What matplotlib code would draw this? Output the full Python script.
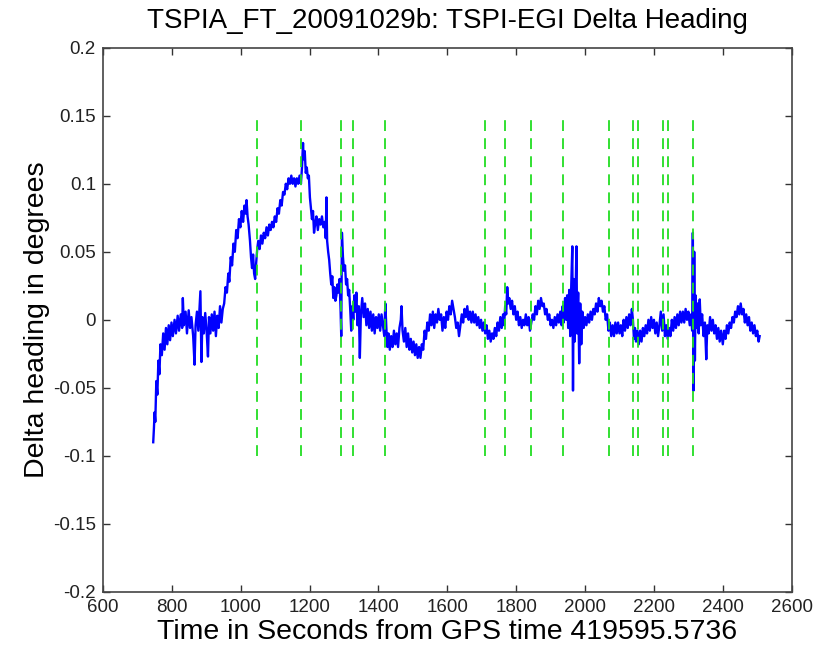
import matplotlib
matplotlib.use('Agg')
import matplotlib.pyplot as plt

plt.rcParams['font.family'] = ['Liberation Sans', 'DejaVu Sans']

# Zeitpunkte (s) und Kursdifferenz (Grad)
time_s = [
    746, 748, 750, 752, 755, 758, 761, 764, 767, 771, 775, 779, 783, 787, 791, 795, 799, 803,
    808, 812, 817, 821, 826, 830, 832, 835, 840, 844, 849, 853, 857, 862, 866, 869, 873, 877,
    883, 886, 889, 893, 897, 901, 905, 908, 912, 916, 920, 924, 928, 932, 936, 940, 944, 948,
    952, 956, 960, 964, 967, 971, 975, 979, 983, 987, 991, 995, 999, 1003, 1007, 1011, 1015, 1017,
    1020, 1023, 1027, 1030, 1033, 1036, 1039, 1042, 1045, 1048, 1051, 1055, 1059, 1063, 1067, 1071,
    1075, 1079, 1083, 1087, 1091, 1095, 1099, 1103, 1107, 1111, 1115, 1119, 1123, 1127, 1131, 1135,
    1139, 1143, 1147, 1151, 1155, 1159, 1163, 1167, 1171, 1175, 1178, 1181, 1183, 1186, 1189, 1192,
    1195, 1198, 1201, 1204, 1207, 1210, 1213, 1216, 1220, 1224, 1228, 1232, 1236, 1240, 1244, 1247,
    1249, 1251, 1254, 1257, 1260, 1263, 1266, 1269, 1272, 1275, 1278, 1281, 1284, 1287, 1290, 1292,
    1294, 1297, 1300, 1303, 1306, 1309, 1312, 1315, 1318, 1321, 1324, 1327, 1330, 1333, 1336, 1339,
    1343, 1346, 1349, 1353, 1357, 1361, 1365, 1369, 1373, 1377, 1381, 1385, 1389, 1393, 1397, 1401,
    1405, 1409, 1413, 1417, 1420, 1423, 1426, 1429, 1433, 1437, 1441, 1445, 1449, 1453, 1457, 1461,
    1465, 1467, 1470, 1474, 1478, 1482, 1486, 1490, 1494, 1498, 1502, 1506, 1510, 1514, 1518, 1522,
    1526, 1530, 1534, 1538, 1542, 1546, 1550, 1554, 1558, 1562, 1566, 1570, 1574, 1578, 1582, 1586,
    1590, 1594, 1598, 1602, 1606, 1610, 1614, 1618, 1622, 1626, 1630, 1634, 1638, 1642, 1646, 1650,
    1654, 1658, 1662, 1666, 1670, 1674, 1678, 1682, 1686, 1690, 1694, 1698, 1702, 1706, 1710, 1714,
    1718, 1722, 1726, 1730, 1734, 1738, 1742, 1746, 1750, 1754, 1758, 1762, 1765, 1768, 1771, 1774,
    1777, 1780, 1784, 1788, 1792, 1796, 1800, 1804, 1808, 1812, 1816, 1820, 1824, 1828, 1832, 1836,
    1840, 1844, 1848, 1852, 1856, 1860, 1864, 1868, 1872, 1876, 1880, 1884, 1888, 1892, 1896, 1900,
    1904, 1908, 1912, 1916, 1920, 1924, 1928, 1932, 1935, 1938, 1942, 1945, 1948, 1951, 1954, 1957,
    1960, 1963, 1965, 1967, 1970, 1973, 1975, 1977, 1980, 1983, 1986, 1989, 1992, 1996, 2000, 2004,
    2008, 2012, 2016, 2020, 2024, 2028, 2032, 2036, 2040, 2044, 2048, 2052, 2056, 2060, 2064, 2068,
    2072, 2076, 2080, 2084, 2088, 2092, 2096, 2100, 2104, 2108, 2112, 2116, 2120, 2124, 2128, 2132,
    2136, 2139, 2142, 2145, 2148, 2152, 2156, 2160, 2164, 2168, 2172, 2176, 2180, 2184, 2188, 2192,
    2196, 2200, 2204, 2208, 2212, 2216, 2220, 2224, 2228, 2232, 2236, 2240, 2244, 2248, 2252, 2256,
    2260, 2264, 2268, 2272, 2276, 2280, 2284, 2288, 2292, 2296, 2300, 2304, 2308, 2311, 2313, 2315,
    2317, 2319, 2321, 2324, 2327, 2330, 2333, 2336, 2340, 2344, 2348, 2352, 2355, 2359, 2363, 2367,
    2371, 2375, 2379, 2383, 2387, 2391, 2395, 2400, 2404, 2408, 2412, 2416, 2420, 2424, 2428, 2432,
    2436, 2440, 2444, 2448, 2452, 2456, 2460, 2464, 2468, 2472, 2476, 2480, 2484, 2488, 2492, 2496,
    2500, 2504, 2507,
]
delta_hdg = [
    -0.090, -0.080, -0.068, -0.075, -0.045, -0.055, -0.030, -0.040, -0.018, -0.026, -0.010, -0.022, -0.006, -0.018, -0.004, -0.015, -0.002, -0.012,
    0.000, -0.010, 0.003, -0.008, 0.004, -0.006, 0.016, -0.004, 0.006, -0.010, 0.007, -0.006, 0.002, -0.012, -0.033, -0.004, 0.006, -0.008,
    0.021, -0.031, 0.002, -0.010, 0.005, -0.008, -0.027, 0.002, -0.010, 0.004, -0.008, 0.006, -0.012, 0.003, -0.006, 0.010, -0.002, 0.008,
    0.012, 0.024, 0.020, 0.034, 0.028, 0.046, 0.040, 0.056, 0.050, 0.066, 0.060, 0.074, 0.068, 0.080, 0.072, 0.084, 0.078, 0.088,
    0.076, 0.070, 0.058, 0.046, 0.038, 0.048, 0.034, 0.030, 0.042, 0.052, 0.058, 0.052, 0.062, 0.056, 0.064, 0.060,
    0.068, 0.062, 0.070, 0.066, 0.072, 0.068, 0.076, 0.072, 0.082, 0.078, 0.088, 0.084, 0.094, 0.092, 0.100, 0.096,
    0.104, 0.100, 0.106, 0.100, 0.104, 0.098, 0.104, 0.100, 0.106, 0.100, 0.112, 0.130, 0.118, 0.124, 0.108, 0.112,
    0.104, 0.106, 0.090, 0.082, 0.074, 0.080, 0.064, 0.070, 0.076, 0.066, 0.074, 0.070, 0.076, 0.068, 0.072, 0.060,
    0.090, 0.058, 0.050, 0.044, 0.034, 0.026, 0.032, 0.016, 0.024, 0.014, 0.018, 0.026, 0.020, 0.030, 0.008, -0.012,
    0.064, 0.046, 0.036, 0.040, 0.026, 0.030, 0.018, 0.022, 0.008, -0.008, 0.010, 0.000, 0.018, 0.006, 0.020, -0.004,
    0.010, -0.028, 0.004, 0.016, 0.002, 0.012, -0.004, 0.008, -0.006, 0.006, -0.008, 0.004, -0.010, 0.002, -0.006, 0.004,
    -0.008, 0.004, -0.004, -0.012, 0.012, -0.006, -0.020, -0.010, -0.022, -0.012, -0.020, -0.008, -0.018, -0.010, -0.020, -0.006,
    0.000, 0.010, -0.008, -0.016, -0.006, -0.020, -0.010, -0.022, -0.014, -0.024, -0.016, -0.026, -0.018, -0.028, -0.020, -0.028,
    -0.018, -0.022, -0.008, -0.014, -0.002, -0.008, 0.004, -0.004, 0.006, -0.006, 0.004, -0.002, 0.008, 0.000, 0.004, -0.008,
    0.002, -0.006, 0.006, 0.000, 0.010, 0.004, 0.014, 0.008, 0.002, -0.006, -0.002, -0.012, -0.004, 0.004, -0.002, 0.008,
    0.002, 0.010, 0.000, 0.006, -0.002, 0.006, -0.002, 0.004, -0.004, 0.002, -0.006, 0.000, -0.008, -0.002, -0.010, -0.004,
    -0.014, -0.008, -0.016, -0.010, -0.014, -0.006, -0.012, -0.002, -0.008, 0.002, -0.006, 0.004, -0.004, 0.010, 0.004, 0.024,
    0.012, 0.016, 0.008, 0.014, 0.004, 0.010, 0.000, 0.006, -0.004, 0.002, -0.006, 0.000, -0.004, 0.004, -0.004, 0.002,
    -0.008, -0.002, 0.004, 0.000, 0.010, 0.004, 0.014, 0.008, 0.016, 0.010, 0.012, 0.004, 0.008, 0.000, 0.004, -0.004,
    0.000, -0.006, 0.002, -0.004, 0.004, -0.002, 0.006, -0.004, 0.010, -0.002, 0.016, 0.000, 0.018, -0.006, 0.022, -0.012,
    0.026, 0.054, -0.052, 0.030, -0.016, 0.024, 0.054, -0.010, 0.020, -0.032, 0.012, -0.018, 0.006, -0.006, 0.002, -0.004,
    0.004, -0.002, 0.006, 0.000, 0.008, 0.004, 0.012, 0.006, 0.016, 0.010, 0.014, 0.006, 0.010, 0.000, 0.004, -0.008,
    -0.002, -0.012, -0.004, -0.012, -0.002, -0.010, -0.002, -0.010, -0.004, -0.012, 0.000, -0.008, 0.002, -0.006, 0.004, -0.004,
    0.008, 0.000, -0.014, -0.006, -0.016, -0.008, -0.018, -0.008, -0.016, -0.006, -0.012, -0.004, -0.010, 0.000, -0.008, 0.002,
    -0.006, 0.000, -0.010, -0.002, -0.012, -0.004, 0.006, -0.008, 0.004, -0.012, -0.004, -0.014, -0.006, -0.012, 0.000, -0.008,
    0.002, -0.006, 0.004, -0.004, 0.006, -0.002, 0.006, -0.002, 0.008, 0.000, 0.006, -0.004, 0.004, -0.008, 0.064, -0.052,
    0.050, -0.030, 0.018, -0.006, 0.012, -0.010, 0.015, -0.004, 0.004, -0.012, -0.002, -0.029, -0.004, -0.010, 0.002, -0.008,
    0.000, -0.010, -0.004, -0.014, -0.006, -0.016, -0.008, -0.018, -0.008, -0.014, -0.004, -0.010, -0.002, -0.006, 0.002, -0.002,
    0.006, 0.002, 0.010, 0.004, 0.012, 0.004, 0.008, -0.002, 0.004, -0.004, 0.002, -0.008, -0.002, -0.010, -0.004, -0.012,
    -0.008, -0.016, -0.012,
]

# Ereignis-Markierungen (gruene gestrichelte Linien)
event_times = [1046, 1175, 1291, 1325, 1419, 1709, 1767, 1842, 1935,
               2069, 2139, 2155, 2226, 2242, 2314]
event_lo = -0.1
event_hi = 0.15

x_ticks = [600, 800, 1000, 1200, 1400, 1600, 1800, 2000, 2200, 2400, 2600]
y_ticks = [-0.2, -0.15, -0.1, -0.05, 0, 0.05, 0.1, 0.15, 0.2]
y_labels = ['-0.2', '-0.15', '-0.1', '-0.05', '0', '0.05', '0.1', '0.15', '0.2']

fig = plt.figure(figsize=(8.17, 6.54), dpi=100)
ax = fig.add_axes([0.126, 0.095, 0.843, 0.832])

ax.plot(time_s, delta_hdg, color='#0000ff', linewidth=1.7)
ax.vlines(event_times, event_lo, event_hi, colors='#22dd22',
          linestyles=(0, (6, 4)), linewidth=1.3)

ax.set_xlim(600, 2600)
ax.set_ylim(-0.2, 0.2)
ax.set_xticks(x_ticks)
ax.set_yticks(y_ticks)
ax.set_yticklabels(y_labels)
ax.tick_params(direction='in', top=True, right=True, length=5, width=1,
               labelsize=13.5, pad=5, colors='#333333', labelcolor='#222222')
for s in ax.spines.values():
    s.set_linewidth(1.2)
    s.set_color('#444444')

ax.set_title('TSPIA_FT_20091029b: TSPI-EGI Delta Heading', fontsize=20, pad=14)
ax.set_xlabel('Time in Seconds from GPS time 419595.5736', fontsize=20.5, labelpad=2)
ax.set_ylabel('Delta heading in degrees', fontsize=20.5, labelpad=2)

fig.savefig('out.png', dpi=100)
plt.close(fig)
